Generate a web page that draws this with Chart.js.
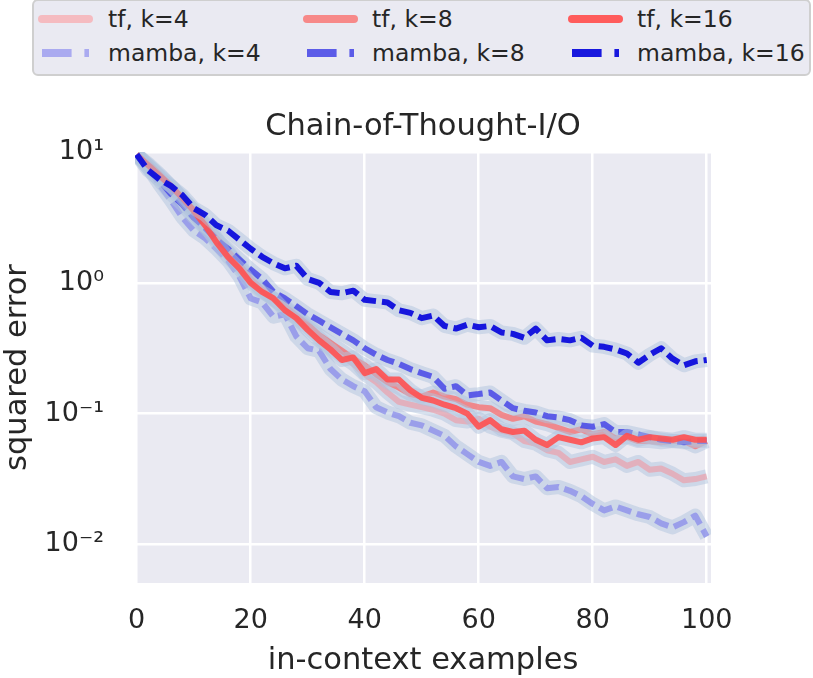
<!DOCTYPE html>
<html>
<head>
<meta charset="utf-8">
<script src="https://cdn.jsdelivr.net/npm/chart.js@4.4.1/dist/chart.umd.min.js"></script>
<style>
html,body{margin:0;padding:0;background:#fff;}
#wrap{position:relative;width:813px;height:678px;font-family:"DejaVu Sans",sans-serif;color:#262626;overflow:hidden;}
#c{position:absolute;left:0;top:0;}
#legend{position:absolute;left:32px;top:-1px;width:779px;height:77px;box-sizing:border-box;background:#eaeaf2;border:2px solid #cfcfcf;border-radius:6px;}
.lg-text{position:absolute;font-size:23.5px;line-height:28px;height:28px;white-space:nowrap;color:#262626;}
.lg-svg{position:absolute;overflow:visible;}
#title{position:absolute;left:135px;width:576px;top:107px;text-align:center;font-size:30.5px;line-height:36px;white-space:nowrap;color:#262626;}
</style>
</head>
<body>
<div id="wrap">
  <canvas id="c" width="813" height="678" style="width:813px;height:678px;"></canvas>
  <div id="legend"></div>
  <div id="title">Chain-of-Thought-I/O</div>
</div>
<script>
// ---- data ----
const steps = [0,2,4,6,8,10,12,14,16,18,20,22,24,26,28,30,32,34,36,38,40,42,44,46,48,50,52,54,56,58,60,62,64,66,68,70,72,74,76,78,80,82,84,86,88,90,92,94,96,98,100];

const tf4 = [9.55,7.94,6.46,5.25,4.17,3.39,2.69,2.14,1.70,1.35,1.05,0.871,0.741,0.646,0.537,0.457,0.380,0.316,0.275,0.240,0.200,0.174,0.145,0.123,0.117,0.112,0.107,0.100,0.0891,0.0871,0.0912,0.0794,0.0741,0.0708,0.0617,0.0589,0.0525,0.0501,0.0427,0.0447,0.0468,0.0427,0.0447,0.0398,0.0427,0.0372,0.0380,0.0347,0.0309,0.0316,0.0331];
const tf8 = [9.55,8.13,6.76,5.50,4.37,3.63,2.82,2.19,1.74,1.38,1.07,0.891,0.759,0.661,0.562,0.479,0.398,0.347,0.302,0.263,0.234,0.200,0.174,0.158,0.141,0.135,0.145,0.135,0.129,0.117,0.112,0.110,0.0977,0.0912,0.0955,0.0871,0.0832,0.0776,0.0724,0.0759,0.0692,0.0724,0.0646,0.0661,0.0617,0.0617,0.0603,0.0617,0.0617,0.0562,0.0617];
const tf16 = [9.55,7.94,6.61,5.50,4.47,3.55,2.75,2.04,1.58,1.29,1.00,0.851,0.759,0.617,0.537,0.437,0.363,0.309,0.257,0.269,0.204,0.219,0.182,0.182,0.151,0.132,0.126,0.117,0.110,0.100,0.0794,0.0891,0.0759,0.0724,0.0741,0.0631,0.0575,0.0661,0.0631,0.0603,0.0646,0.0661,0.0575,0.0676,0.0631,0.0661,0.0646,0.0631,0.0661,0.0631,0.0631];
const mamba4 = [9.55,7.59,5.62,4.27,3.16,2.51,2.19,1.82,1.48,1.12,0.759,0.708,0.550,0.575,0.389,0.316,0.302,0.219,0.182,0.162,0.148,0.112,0.102,0.0955,0.0851,0.0813,0.0741,0.0676,0.0562,0.0490,0.0427,0.0398,0.0427,0.0331,0.0316,0.0331,0.0269,0.0275,0.0257,0.0234,0.0204,0.0182,0.0195,0.0182,0.0170,0.0162,0.0145,0.0135,0.0148,0.0166,0.0115];
const mamba8 = [9.55,7.59,6.03,4.79,3.98,3.16,2.63,2.14,1.82,1.51,1.26,1.07,0.851,0.759,0.661,0.575,0.513,0.457,0.407,0.363,0.316,0.282,0.257,0.240,0.219,0.204,0.191,0.155,0.162,0.138,0.141,0.145,0.126,0.110,0.105,0.102,0.0955,0.0933,0.0891,0.0813,0.0794,0.0832,0.0724,0.0724,0.0692,0.0661,0.0631,0.0617,0.0603,0.0617,0.0617];
const mamba16 = [9.55,7.24,6.17,5.50,4.68,3.72,3.31,2.75,2.51,2.14,1.82,1.58,1.41,1.29,1.35,1.07,1.00,0.851,0.832,0.871,0.741,0.724,0.708,0.617,0.589,0.537,0.562,0.468,0.447,0.479,0.457,0.468,0.417,0.407,0.380,0.447,0.363,0.372,0.363,0.380,0.331,0.324,0.309,0.288,0.245,0.282,0.316,0.263,0.234,0.251,0.257];

const seriesLabels = ['tf, k=4','mamba, k=4','tf, k=8','mamba, k=8','tf, k=16','mamba, k=16'];
const seriesValues = [tf4, mamba4, tf8, mamba8, tf16, mamba16];

const xTickValues = [0,20,40,60,80,100];
const yTickValues = [0.01,0.1,1,10];
const yTickLabels = ['10\u207B\u00B2','10\u207B\u00B9','10\u2070','10\u00B9'];

// ---- styles ----
const FONT = '"DejaVu Sans", sans-serif';
const TEXT = '#262626';
const lineColors = ['rgba(240,150,160,0.6)','rgba(120,120,235,0.6)','rgba(250,110,110,0.75)','rgba(70,70,230,0.85)','rgba(255,80,80,0.9)','rgba(15,15,220,0.97)'];
const legendColors = ['#f5bbc0','#aaaaf0','#f78989','#5c5ce8','#ff5c5c','#1818de'];
const isDashed = [false,true,false,true,false,true];
const bandColor = 'rgba(176,196,222,0.5)';

const datasets = [];
seriesValues.forEach((vals, i) => {
  const pts = steps.map((x, j) => ({x: x, y: vals[j]}));
  datasets.push({
    label: seriesLabels[i] + ' band', data: pts,
    borderColor: bandColor, borderWidth: 14, pointRadius: 0, tension: 0,
    borderJoinStyle: 'round', borderCapStyle: 'butt', fill: false, clip: 0,
    order: 12 - 2 * i
  });
  datasets.push({
    label: seriesLabels[i], data: pts,
    borderColor: lineColors[i], borderWidth: 6, pointRadius: 0, tension: 0,
    borderDash: isDashed[i] ? [14, 6] : [],
    borderJoinStyle: 'round', borderCapStyle: 'butt', fill: false, clip: 0,
    order: 11 - 2 * i
  });
});

const bgPlugin = {
  id: 'plotBg',
  beforeDraw(chart) {
    const a = chart.chartArea, ctx = chart.ctx;
    ctx.save();
    ctx.fillStyle = '#eaeaf2';
    ctx.fillRect(a.left, a.top, a.right - a.left, a.bottom - a.top);
    ctx.restore();
  }
};

new Chart(document.getElementById('c'), {
  type: 'line',
  data: { datasets: datasets },
  plugins: [bgPlugin],
  options: {
    responsive: false,
    animation: false,
    layout: { padding: { top: 152, right: 102, bottom: 0, left: 0 } },
    plugins: { legend: { display: false }, tooltip: { enabled: false }, title: { display: false } },
    scales: {
      x: {
        type: 'linear', min: -0.3, max: 100.75,
        grid: { color: '#ffffff', lineWidth: 2.5, drawTicks: false },
        border: { display: false },
        ticks: { font: { family: FONT, size: 27 }, color: TEXT, padding: 22, autoSkip: false, maxRotation: 0 },
        afterBuildTicks: s => { s.ticks = xTickValues.map(v => ({ value: v })); },
        afterFit: s => { s.height = 95; },
        title: { display: true, text: 'in-context examples', font: { family: FONT, size: 30.5 }, color: TEXT, padding: { top: 0, bottom: -1 } }
      },
      y: {
        type: 'logarithmic', min: 0.00507, max: 10,
        grid: { color: '#ffffff', lineWidth: 2.5, drawTicks: false },
        border: { display: false },
        ticks: {
          font: { family: FONT, size: 27 }, color: TEXT, padding: 31, autoSkip: false,
          callback: (v) => { const k = yTickValues.findIndex(t => Math.abs(t - v) / t < 1e-6); return k >= 0 ? yTickLabels[k] : ''; }
        },
        afterBuildTicks: s => { s.ticks = yTickValues.map(v => ({ value: v })); },
        afterFit: s => { s.width = 135; },
        title: { display: true, text: 'squared error', font: { family: FONT, size: 30.5 }, color: TEXT, padding: 0 }
      }
    }
  }
});

// ---- legend (HTML, 3 columns x 2 rows, column-first order like matplotlib) ----
const wrap = document.getElementById('wrap');
const sampleX = [38, 303, 568];
const textX = [108, 372, 637];
const rowY = [19, 53];
const NS = 'http://www.w3.org/2000/svg';
seriesLabels.forEach((lab, i) => {
  const col = Math.floor(i / 2), row = i % 2;
  const svg = document.createElementNS(NS, 'svg');
  svg.setAttribute('class', 'lg-svg');
  svg.setAttribute('width', '60'); svg.setAttribute('height', '12');
  svg.style.left = sampleX[col] + 'px';
  svg.style.top = (rowY[row] - 6) + 'px';
  const ln = document.createElementNS(NS, 'line');
  ln.setAttribute('x1', '4'); ln.setAttribute('x2', '51');
  ln.setAttribute('y1', '6'); ln.setAttribute('y2', '6');
  ln.setAttribute('stroke', legendColors[i]);
  ln.setAttribute('stroke-width', '8');
  if (isDashed[i]) { ln.setAttribute('stroke-dasharray', '29.6 12.8'); ln.setAttribute('stroke-linecap', 'butt'); }
  else { ln.setAttribute('stroke-linecap', 'round'); }
  svg.appendChild(ln);
  wrap.appendChild(svg);
  const t = document.createElement('div');
  t.className = 'lg-text';
  t.textContent = lab;
  t.style.left = textX[col] + 'px';
  t.style.top = (rowY[row] - 14) + 'px';
  wrap.appendChild(t);
});
</script>
</body>
</html>
